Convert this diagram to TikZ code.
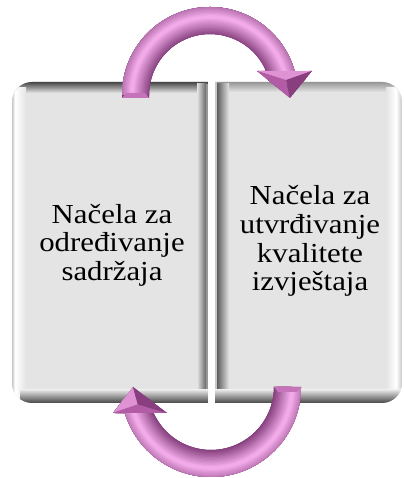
\documentclass[tikz,border=0pt]{standalone}
\usepackage{fontspec}
\setmainfont{Liberation Serif}
\definecolor{boxfill}{RGB}{228,228,228}
\definecolor{edgedark}{RGB}{70,70,70}
\definecolor{edgemid}{RGB}{150,150,150}
\definecolor{edgelight}{RGB}{200,200,200}
\definecolor{arrowdark}{RGB}{125,55,117}
\definecolor{arrowmid}{RGB}{178,92,166}
\definecolor{arrowlight}{RGB}{242,170,232}
\newcommand{\lbltext}[1]{\scalebox{1.12}[1]{\begin{tabular}{@{}c@{}}#1\end{tabular}}}
\tikzset{
  lbl/.style={inner sep=0pt, text=black, font=\fontsize{27.5bp}{28.7bp}\selectfont},
  facetlight/.style={fill=arrowlight!70!arrowmid},
  facetmid/.style={fill=arrowmid},
  facetdark/.style={fill=arrowdark!80!arrowmid},
}
\begin{document}
\begin{tikzpicture}[x=1bp,y=1bp]
\useasboundingbox (0,0) rectangle (403,478);
% ---------- left box ----------
\begin{scope}
\clip (208,75) -- (32,75) arc[start angle=270,end angle=180,radius=20]
  -- (12,376) arc[start angle=180,end angle=90,radius=20] -- (208,396) -- cycle;
\fill[boxfill] (0,0) rectangle (403,478);
\shade[top color=edgedark, bottom color=boxfill] (12,385) rectangle (208,396);
\shade[left color=edgelight, right color=white] (12,75) rectangle (15,396);
\shade[left color=white, right color=boxfill] (15,80) rectangle (26,390);
\shade[left color=boxfill, right color=edgedark!80!boxfill] (197,75) rectangle (206,394);
\fill[edgemid] (206,75) rectangle (208,394);
\shade[bottom color=edgedark, top color=boxfill] (20,75) rectangle (208,88);
\end{scope}
% ---------- right box ----------
\begin{scope}
\clip (215,75) -- (382,75) arc[start angle=270,end angle=360,radius=20]
  -- (402,376) arc[start angle=0,end angle=90,radius=20] -- (215,396) -- cycle;
\fill[boxfill] (0,0) rectangle (403,478);
\shade[top color=edgemid, bottom color=boxfill] (215,386) rectangle (402,396);
\fill[edgelight] (215,75) rectangle (217,396);
\shade[left color=edgedark!85!boxfill, right color=boxfill] (217,75) rectangle (229,394);
\shade[left color=boxfill, right color=white] (386,80) rectangle (396,390);
\shade[left color=white, right color=edgelight] (396,80) rectangle (402,390);
\shade[bottom color=edgedark, top color=boxfill] (215,75) rectangle (402,88);
\end{scope}
% ---------- labels ----------
\node[lbl] (left) at (112,232) {\lbltext{Načela za\\određivanje\\sadržaja}};
\node[lbl] (right) at (310,236) {\lbltext{Načela za\\utvrđivanje\\kvalitete\\izvještaja}};
% ---------- top arrow ----------
\coordinate (tc) at (210,383);
\begin{scope}
\clip (122,380) -- (122,383) arc[start angle=180,end angle=15.8,radius=88]
  -- (312,407) -- (290,380) -- (257,407) -- (266.1,407)
  arc[start angle=23.2,end angle=180,radius=61] -- (149,380) -- cycle;
\fill[arrowdark] (0,0) rectangle (403,478);
\foreach \i in {0,...,14}{
  \pgfmathsetmacro\w{40-2.6*\i}
  \pgfmathtruncatemacro\p{100*\i/14}
  \draw[line width=\w bp, color=arrowlight!\p!arrowdark]
    ([shift={(180:78)}]tc) arc[start angle=180,end angle=8,radius=78];
}
\fill[facetlight] (257,407) -- (312,407) -- (286,398) -- cycle;
\fill[facetmid] (257,407) -- (286,398) -- (290,380) -- cycle;
\fill[facetdark] (312,407) -- (286,398) -- (290,380) -- cycle;
\fill[arrowmid!70!arrowlight] (122,380) -- (149,380) -- (145,385) -- (126,385) -- cycle;
\end{scope}
% ---------- bottom arrow ----------
\coordinate (bc) at (211,91);
\begin{scope}
\clip (301,91) arc[start angle=0,end angle=-163.2,radius=90]
  -- (113,65) -- (133,91) -- (167,65) -- (153.6,65)
  arc[start angle=-155.6,end angle=0,radius=63] -- cycle;
\fill[arrowdark] (0,0) rectangle (403,478);
\foreach \i in {0,...,14}{
  \pgfmathsetmacro\w{40-2.6*\i}
  \pgfmathtruncatemacro\p{100*\i/14}
  \draw[line width=\w bp, color=arrowlight!\p!arrowdark]
    ([shift={(0:81)}]bc) arc[start angle=0,end angle=-172,radius=81];
}
\fill[facetlight] (113,65) -- (133,91) -- (137.7,73.7) -- cycle;
\fill[facetmid] (113,65) -- (167,65) -- (137.7,73.7) -- cycle;
\fill[facetdark] (167,65) -- (133,91) -- (137.7,73.7) -- cycle;
\fill[arrowmid!70!arrowlight] (274,91) -- (301,91) -- (297,86) -- (278,86) -- cycle;
\end{scope}
\end{tikzpicture}
\end{document}
